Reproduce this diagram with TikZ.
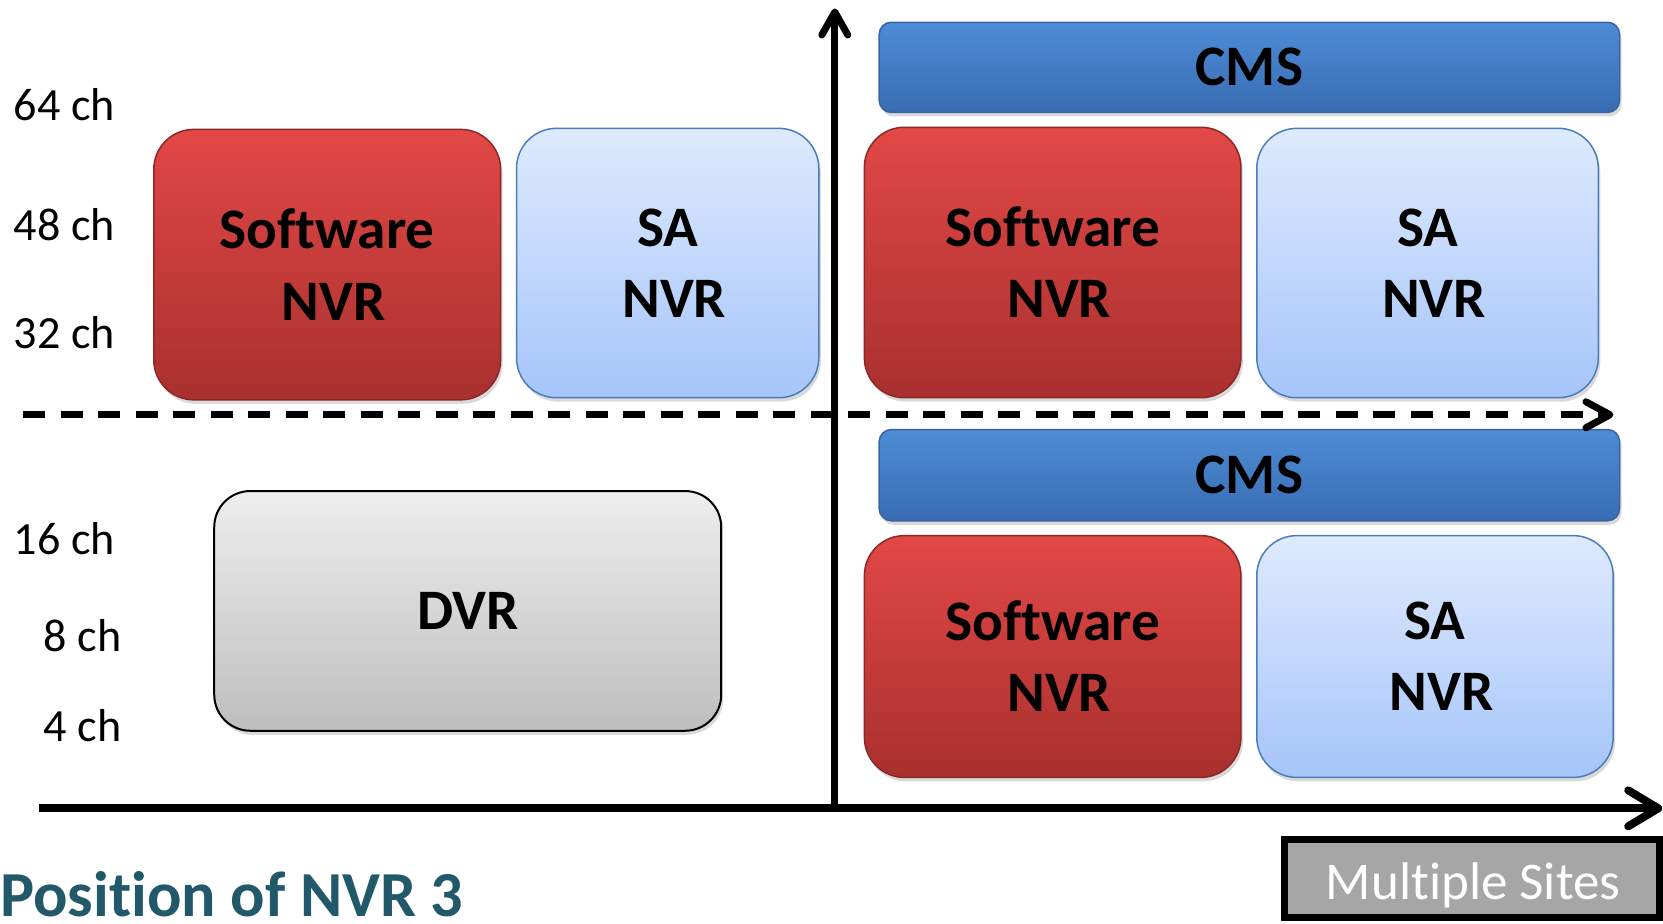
\documentclass[tikz,border=0pt]{standalone}
\usepackage{fontspec}
\setmainfont{Carlito}[Ligatures=NoCommon]
\usetikzlibrary{arrows.meta,shadows}
\definecolor{redtop}{RGB}{226,72,70}
\definecolor{redbot}{RGB}{168,48,46}
\definecolor{redline}{RGB}{140,40,38}
\definecolor{bluetop}{RGB}{222,234,253}
\definecolor{bluebot}{RGB}{166,197,250}
\definecolor{blueline}{RGB}{74,126,187}
\definecolor{cmstop}{RGB}{78,140,214}
\definecolor{cmsbot}{RGB}{56,108,178}
\definecolor{cmsline}{RGB}{56,98,160}
\definecolor{dvrtop}{RGB}{238,238,238}
\definecolor{dvrbot}{RGB}{190,190,190}
\definecolor{titlecol}{RGB}{34,89,106}
\definecolor{msgrey}{RGB}{166,166,166}
\tikzset{
  box/.style={rounded corners=40pt, line width=1.5pt, align=center,
    font=\bfseries\fontsize{54}{67}\selectfont,
    drop shadow={opacity=0.3, shadow xshift=2pt, shadow yshift=-4pt}},
  redbox/.style={box, draw=redline, top color=redtop, bottom color=redbot},
  bluebox/.style={box, draw=blueline, top color=bluetop, bottom color=bluebot},
  cmsbox/.style={box, rounded corners=12pt, draw=cmsline, top color=cmstop, bottom color=cmsbot},
  dvrbox/.style={box, rounded corners=36pt, draw=black, line width=2pt, top color=dvrtop, bottom color=dvrbot},
  chlabel/.style={anchor=base west, font=\fontsize{43.5}{50}\selectfont, inner sep=0pt},
  axis/.style={line width=8pt},
}
\begin{document}
\begin{tikzpicture}[x=1pt, y=-1pt, scale=1.0606, transform shape]
\useasboundingbox (0,0) rectangle (1568,870.3);
% boxes
\node[redbox, minimum width=327, minimum height=255] (sw1) at (308.5,249.5) {Software\\\hspace*{0.23em}NVR};
\node[bluebox, minimum width=285, minimum height=254] (sa1) at (629.5,248) {SA\\\hspace*{0.23em}NVR};
\node[cmsbox, minimum width=698, minimum height=85] (cms1) at (1178,63.5) {CMS};
\node[redbox, minimum width=355, minimum height=255] (sw2) at (992.5,247.5) {Software\\\hspace*{0.23em}NVR};
\node[bluebox, minimum width=322, minimum height=254] (sa2) at (1346,248) {SA\\\hspace*{0.23em}NVR};
\node[cmsbox, minimum width=698, minimum height=86] (cms2) at (1178,448) {CMS};
\node[redbox, minimum width=355, minimum height=228] (sw3) at (992.5,619) {Software\\\hspace*{0.23em}NVR};
\node[bluebox, minimum width=336, minimum height=228] (sa3) at (1353,619) {SA\\\hspace*{0.23em}NVR};
\node[dvrbox, minimum width=478, minimum height=226] (dvr) at (441,576) {DVR};
% labels
\node[chlabel] (l64) at (13,114) {64 ch};
\node[chlabel] (l48) at (13,227) {48 ch};
\node[chlabel] (l32) at (13,329) {32 ch};
\node[chlabel] (l16) at (13,523) {16 ch};
\node[chlabel] (l8) at (41,614) {8 ch};
\node[chlabel] (l4) at (41,699) {4 ch};
% axes
\coordinate (xo) at (37,762);
\coordinate (xe) at (1567,762);
\coordinate (yo) at (787,762);
\coordinate (ye) at (787,8);
\coordinate (do) at (22,391);
\coordinate (de) at (1521,391);
\draw[line width=7pt, dash pattern=on 22pt off 15.5pt, -{Straight Barb[length=24pt,width=26pt,round]}] (do) -- (de);
\draw[line width=7pt, -{Straight Barb[length=23pt,width=26pt,round]}] (yo) -- (ye);
\draw[axis, -{Straight Barb[length=30pt,width=36pt,round]}] (xo) -- (xe);
% multiple sites
\draw[line width=7pt, fill=msgrey] (1211.5,791.5) rectangle (1564.7,865.5);
\node[anchor=base west, inner sep=0pt, text=white, font=\fontsize{50}{60}\selectfont] (ms) at (1250,848) {Multiple Sites};
% title
\node[anchor=base west, inner sep=0pt, text=titlecol, font=\bfseries\fontsize{60.5}{70}\selectfont] (title) at (0,864.5) {Position of NVR 3};
\end{tikzpicture}
\end{document}
